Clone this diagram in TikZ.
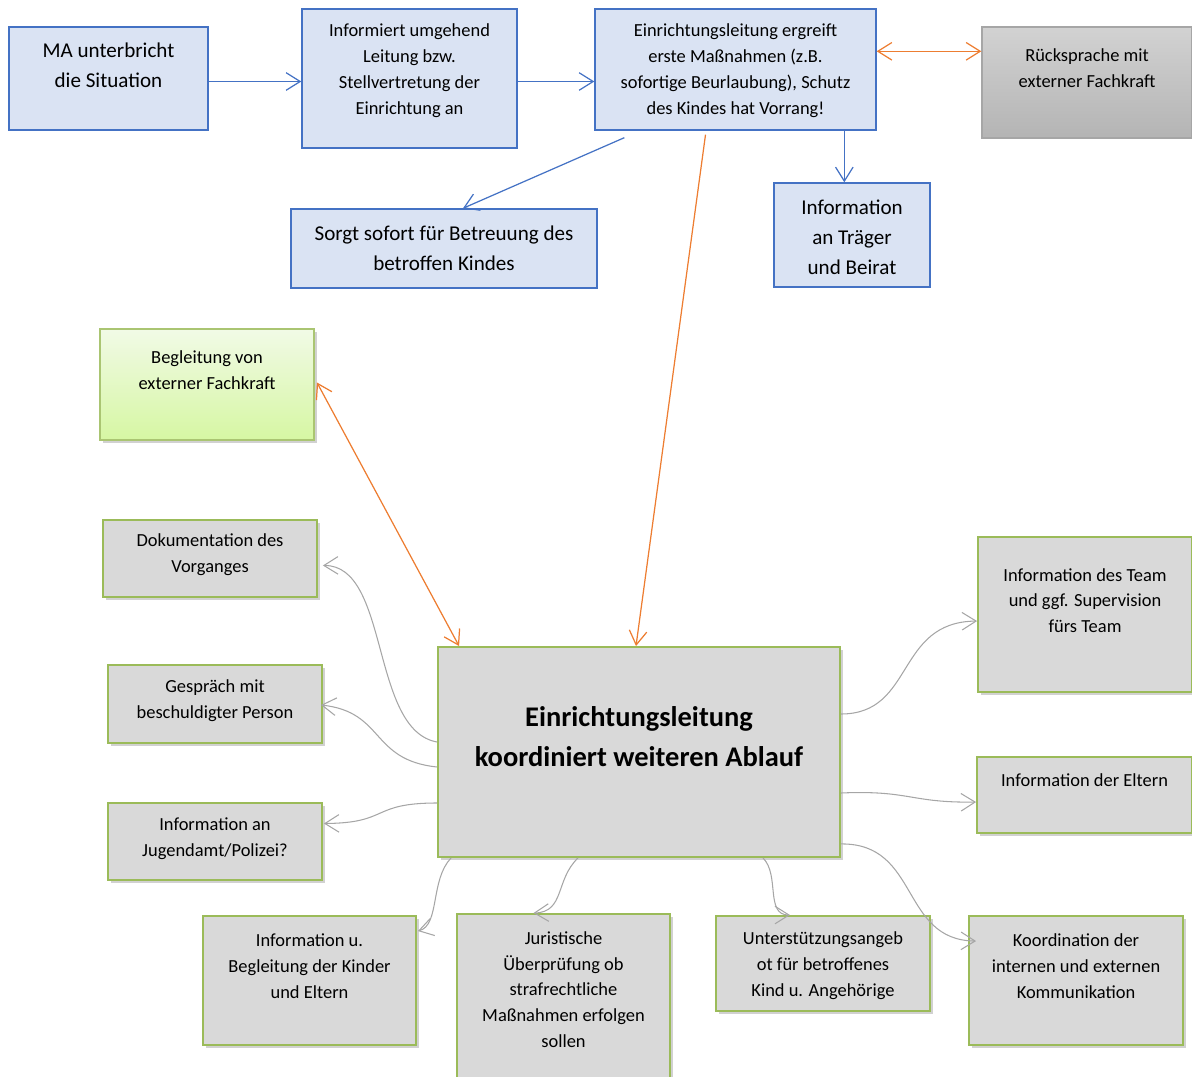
\documentclass[tikz,border=0pt]{standalone}
\usepackage{fontspec}
\setmainfont{Carlito}
\usetikzlibrary{arrows.meta,shadows}

\definecolor{bluefill}{HTML}{DAE3F3}
\definecolor{blueline}{HTML}{4472C4}
\definecolor{grayfill}{HTML}{D9D9D9}
\definecolor{greenline}{HTML}{9BBB59}
\definecolor{orangeline}{HTML}{ED7D31}
\definecolor{curveline}{HTML}{A6A6A6}
\definecolor{limetop}{HTML}{F1FAE6}
\definecolor{limebot}{HTML}{D6F7A3}
\definecolor{greytop}{HTML}{D2D2D2}
\definecolor{greybot}{HTML}{B4B4B4}

\tikzset{
  bluebox/.style={draw=blueline, fill=bluefill, line width=0.8pt},
  graybox/.style={draw=greenline, fill=grayfill, line width=1.1pt,
    drop shadow={shadow xshift=1.5pt, shadow yshift=-1.5pt, opacity=0.3, fill=black!60}},
  limebox/.style={draw=greenline!85, top color=limetop, bottom color=limebot, line width=1.1pt,
    drop shadow={shadow xshift=1.5pt, shadow yshift=-1.5pt, opacity=0.3, fill=black!60}},
  extbox/.style={draw=black!35, top color=greytop, bottom color=greybot, line width=0.8pt},
  txt/.style={align=center, font=\fontsize{10.5}{14.7}\selectfont},
  bigtxt/.style={align=center, font=\fontsize{12}{17}\selectfont},
  maintxt/.style={align=center, font=\bfseries\fontsize{16.2}{22.7}\selectfont},
  tip/.tip={Straight Barb[length=8pt,width=10pt]},
  flow/.style={draw=blueline, line width=0.7pt, -tip},
  link/.style={draw=orangeline, line width=0.7pt},
  branch/.style={draw=curveline, line width=0.6pt, -tip},
}

\begin{document}
\begin{tikzpicture}[x=0.02cm, y=-0.02cm]
\useasboundingbox (0,0) rectangle (1192,1077);

% first steps
\node[bluebox, minimum width=3.98cm, minimum height=2.06cm] (ma) at (108.5,78.5) {};
\node[bigtxt] (ma-t) at (108.5,65) {MA unterbricht\\die Situation};
\node[bluebox, minimum width=4.30cm, minimum height=2.78cm] (info) at (409.5,78.5) {};
\node[txt] (info-t) at (409.5,70.5) {Informiert umgehend\\Leitung bzw.\\Stellvertretung der\\Einrichtung an};
\node[bluebox, minimum width=5.62cm, minimum height=2.42cm] (ergr) at (735.5,69.5) {};
\node[txt] (ergr-t) at (735.5,70.5) {Einrichtungsleitung ergreift\\erste Maßnahmen (z.B.\\sofortige Beurlaubung), Schutz\\des Kindes hat Vorrang!};
\node[extbox, minimum width=4.20cm, minimum height=2.22cm] (rueck) at (1087,82.5) {};
\node[txt] (rueck-t) at (1087,68) {Rücksprache mit\\externer Fachkraft};
\node[bluebox, minimum width=6.12cm, minimum height=1.58cm] (sorgt) at (444,248.5) {};
\node[bigtxt] (sorgt-t) at (444,248) {Sorgt sofort für Betreuung des\\betroffen Kindes};
\node[bluebox, minimum width=3.12cm, minimum height=2.08cm] (traeger) at (852,235) {};
\node[bigtxt] (traeger-t) at (852,237) {Information\\an Träger\\und Beirat};

% coordination
\node[limebox, minimum width=4.28cm, minimum height=2.22cm] (begl) at (207,384.5) {};
\node[txt] (begl-t) at (207,370) {Begleitung von\\externer Fachkraft};
\node[graybox, minimum width=8.04cm, minimum height=4.20cm] (main) at (639,752) {};
\node[maintxt] (main-t) at (639,737) {Einrichtungsleitung\\koordiniert weiteren Ablauf};

\node[graybox, minimum width=4.28cm, minimum height=1.54cm] (doku) at (210,558.5) {};
\node[txt] (doku-t) at (210,555) {Dokumentation des\\Vorganges};
\node[graybox, minimum width=4.28cm, minimum height=1.56cm] (gespr) at (215,704) {};
\node[txt] (gespr-t) at (215,701) {Gespräch mit\\beschuldigter Person};
\node[graybox, minimum width=4.28cm, minimum height=1.54cm] (jugend) at (215,841.5) {};
\node[txt] (jugend-t) at (215,838.5) {Information an\\Jugendamt/Polizei?};

\node[graybox, minimum width=4.28cm, minimum height=3.10cm] (team) at (1085,614.5) {};
\node[txt] (team-t) at (1085,600.5) {Information des Team\\und ggf. Supervision\\fürs Team};
\node[graybox, minimum width=4.30cm, minimum height=1.52cm] (eltern) at (1084.5,795) {};
\node[txt] (eltern-t) at (1084.5,780) {Information der Eltern};

\node[graybox, minimum width=4.26cm, minimum height=2.58cm] (kinder) at (309.5,980.5) {};
\node[txt] (kinder-t) at (309.5,966) {Information u.\\Begleitung der Kinder\\und Eltern};
\node[graybox, minimum width=4.26cm, minimum height=3.40cm] (jur) at (563.5,999) {};
\node[txt] (jur-t) at (563.5,989.5) {Juristische\\Überprüfung ob\\strafrechtliche\\Maßnahmen erfolgen\\sollen};
\node[graybox, minimum width=4.28cm, minimum height=1.90cm] (unterst) at (823,963.5) {};
\node[txt] (unterst-t) at (823,965.5) {Unterstützungsangeb\\ot für betroffenes\\Kind u. Angehörige};
\node[graybox, minimum width=4.28cm, minimum height=2.58cm] (koord) at (1076,980.5) {};
\node[txt] (koord-t) at (1076,966) {Koordination der\\internen und externen\\Kommunikation};

% blue flow
\draw[flow] ([shift={(0,3)}]ma.east) -- ([shift={(0,3)}]ma.east -| info.west);
\draw[flow] ([shift={(0,3)}]info.east) -- ([shift={(0,3)}]info.east -| ergr.west);
\draw[flow] ([shift={(30,7)}]ergr.south west) -- ([shift={(19,0)}]sorgt.north);
\draw[flow] ([shift={(250,0)}]ergr.south west) -- ([shift={(250,0)}]ergr.south west |- traeger.north);

% external expert
\draw[link, tip-tip] ([shift={(0,43)}]ergr.north east) -- ([shift={(0,43)}]ergr.north east -| rueck.west);
\draw[link, -tip] ([shift={(-30,4)}]ergr.south) -- ([shift={(-3,0)}]main.north);
\draw[link, tip-tip] ([shift={(2,-2)}]begl.east) -- ([shift={(22,0)}]main.north west);

% branches
\draw[branch] ([shift={(0,-10)}]main.west) .. controls (370,730) and (390,565) .. ([shift={(5,7)}]doku.east);
\draw[branch] ([shift={(0,15)}]main.west) .. controls (370,760) and (385,712) .. ([shift={(-2,1)}]gespr.east);
\draw[branch] ([shift={(0,51)}]main.west) .. controls (370,803) and (390,823) .. ([shift={(1,-18)}]jugend.east);
\draw[branch] ([shift={(14,0)}]main.south west) .. controls (430,880) and (440,925) .. ([shift={(1,16)}]kinder.north east);
\draw[branch] ([shift={(-61,0)}]main.south) .. controls (555,880) and (565,912) .. ([shift={(-30,0)}]jur.north);
\draw[branch] ([shift={(124,0)}]main.south) .. controls (780,875) and (765,915) .. ([shift={(-33,0)}]unterst.north);
\draw[branch] ([shift={(0,-14)}]main.south east) .. controls (920,843) and (900,940) .. ([shift={(8,26)}]koord.north west);
\draw[branch] ([shift={(0,-38)}]main.east) .. controls (915,714) and (895,622) .. ([shift={(0,85)}]team.north west);
\draw[branch] ([shift={(0,41)}]main.east) .. controls (910,790) and (910,803) .. ([shift={(0,46)}]eltern.north west);
\end{tikzpicture}
\end{document}
